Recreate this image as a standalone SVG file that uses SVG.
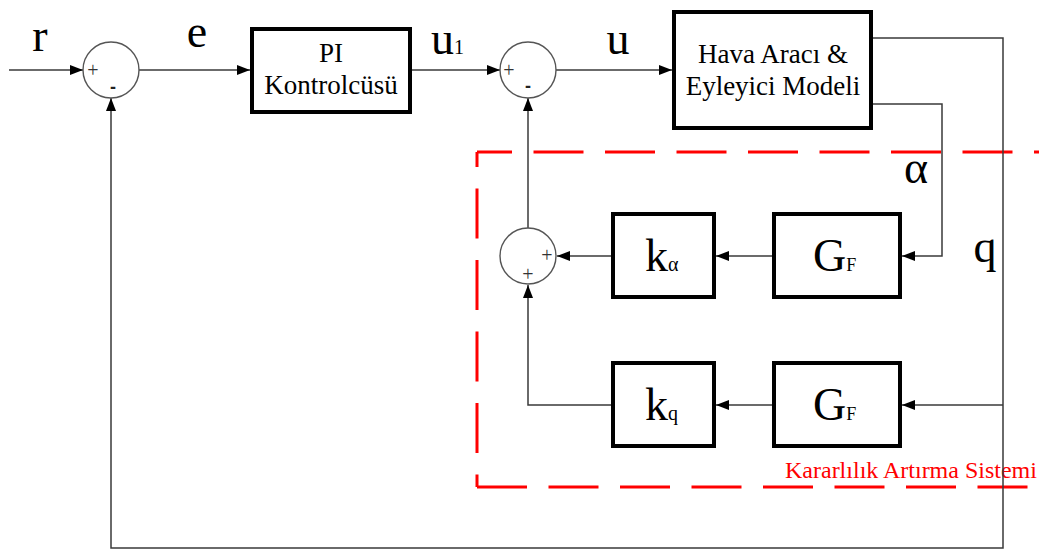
<svg xmlns="http://www.w3.org/2000/svg" width="1039" height="550" viewBox="0 0 1039 550">
  <style>
    .blk { fill: #fff; stroke: #000; stroke-width: 4; }
    .sum { fill: #fff; stroke: #555; stroke-width: 1.4; }
    .wire { fill: none; stroke: #3a3a3a; stroke-width: 1.5; }
    .arr { marker-end: url(#head); }
    .lbl { font-family: "Liberation Serif", "Times New Roman", serif; fill: #000; }
    .big { font-size: 46px; }
    .sign { font-family: "Liberation Serif", serif; font-size: 20px; fill: #333; text-anchor: middle; }
    .minus { font-family: "Liberation Sans", Arial, sans-serif; font-size: 18px; font-weight: bold; fill: #222; text-anchor: middle; }
    .sas { fill: none; stroke: #ff0000; stroke-width: 3; stroke-dasharray: 50 21.5; }
  </style>
  <defs>
    <marker id="head" markerUnits="userSpaceOnUse" markerWidth="13" markerHeight="10" refX="13" refY="5" orient="auto">
      <path d="M0,0 L13,5 L0,10 z" fill="#000"/>
    </marker>
  </defs>

  <rect width="1039" height="550" fill="#fff"/>

  <!-- stability augmentation boundary (dashed) -->
  <g id="sas-boundary">
    <line class="sas" x1="477" y1="152" x2="1039" y2="152" stroke-dashoffset="15"/>
    <line class="sas" x1="477" y1="152" x2="477" y2="487" stroke-dashoffset="35"/>
    <line class="sas" x1="477" y1="487" x2="1039" y2="487"/>
    <text class="lbl" x="785" y="478" font-size="24" style="fill:#ff0000">Kararlılık Artırma Sistemi</text>
  </g>

  <!-- connectors -->
  <g id="connectors">
    <path class="wire arr" d="M9,70 H83"/>
    <path class="wire arr" d="M139,70 H250"/>
    <path class="wire arr" d="M412,70 H500"/>
    <path class="wire arr" d="M556,70 H672"/>
    <path class="wire arr" d="M873,38 H1003 V548 H111 V98"/>
    <path class="wire arr" d="M873,104 H942 V256 H902"/>
    <path class="wire arr" d="M772,256 H716"/>
    <path class="wire arr" d="M611,256 H557"/>
    <path class="wire arr" d="M528,228 V98"/>
    <path class="wire arr" d="M1003,405 H902"/>
    <path class="wire arr" d="M772,405 H716"/>
    <path class="wire arr" d="M611,405 H528 V285"/>
  </g>

  <!-- signal labels -->
  <g id="signal-labels">
    <text class="lbl big" x="40" y="51" text-anchor="middle">r</text>
    <text class="lbl big" x="197" y="47" text-anchor="middle">e</text>
    <text class="lbl big" x="431" y="54">u<tspan font-size="20">1</tspan></text>
    <text class="lbl big" x="618" y="54" text-anchor="middle">u</text>
    <text class="lbl big" x="916" y="183" text-anchor="middle">α</text>
    <text class="lbl big" x="985" y="262" text-anchor="middle">q</text>
  </g>

  <!-- summing junctions -->
  <g id="sum1">
    <circle class="sum" cx="111" cy="70" r="28"/>
    <text class="sign" x="93" y="77">+</text>
    <text class="minus" x="113" y="93">-</text>
  </g>
  <g id="sum2">
    <circle class="sum" cx="528" cy="70" r="28"/>
    <text class="sign" x="509" y="77">+</text>
    <text class="minus" x="528" y="92">-</text>
  </g>
  <g id="sum3">
    <circle class="sum" cx="528" cy="256" r="28"/>
    <text class="sign" x="547" y="262">+</text>
    <text class="sign" x="528" y="281">+</text>
  </g>

  <!-- blocks -->
  <g id="pi-controller">
    <rect class="blk" x="252" y="29" width="158" height="83"/>
    <text class="lbl" x="331" y="62" font-size="27" text-anchor="middle">PI</text>
    <text class="lbl" x="331" y="94" font-size="27" text-anchor="middle">Kontrolcüsü</text>
  </g>
  <g id="aircraft-actuator">
    <rect class="blk" x="674" y="12" width="197" height="116"/>
    <text class="lbl" x="773" y="63" font-size="27" text-anchor="middle">Hava Aracı &amp;</text>
    <text class="lbl" x="773" y="95" font-size="27" text-anchor="middle">Eyleyici Modeli</text>
  </g>
  <g id="filter-alpha">
    <rect class="blk" x="774" y="214" width="126" height="83"/>
    <text class="lbl big" x="813" y="271">G<tspan font-size="18">F</tspan></text>
  </g>
  <g id="gain-alpha">
    <rect class="blk" x="613" y="214" width="101" height="83"/>
    <text class="lbl big" x="645" y="271">k<tspan font-size="20">α</tspan></text>
  </g>
  <g id="filter-q">
    <rect class="blk" x="774" y="363" width="126" height="83"/>
    <text class="lbl big" x="813" y="420">G<tspan font-size="18">F</tspan></text>
  </g>
  <g id="gain-q">
    <rect class="blk" x="613" y="363" width="101" height="83"/>
    <text class="lbl big" x="645" y="420">k<tspan font-size="20">q</tspan></text>
  </g>
</svg>
